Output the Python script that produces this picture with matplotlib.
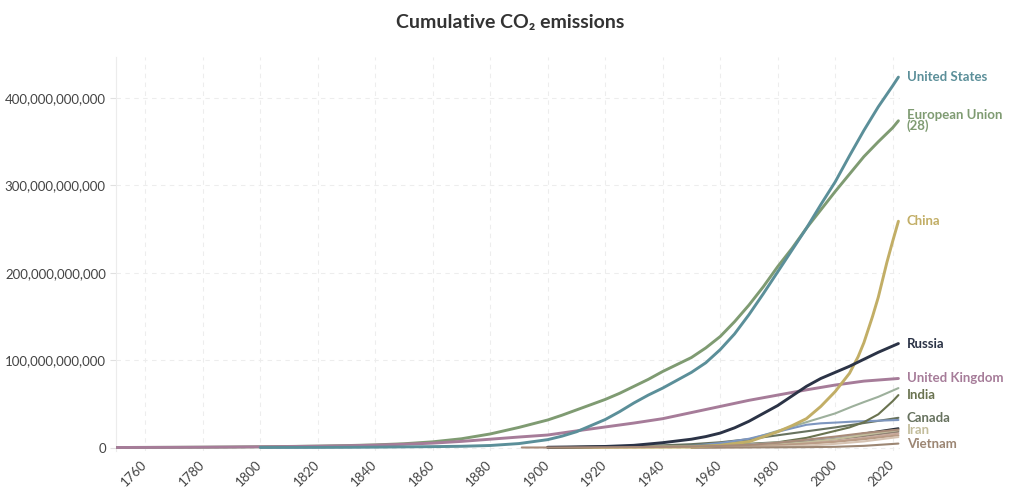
import numpy as np
import matplotlib
matplotlib.use("Agg")
from matplotlib import pyplot as plt
from matplotlib.ticker import FuncFormatter, MultipleLocator

plt.rcParams['font.family'] = ['Lato', 'DejaVu Sans']

# cumulative CO2 emissions, billions of tonnes
# (year, value) pairs per country
eu_years = [1750, 1760, 1770, 1780, 1790, 1800, 1810, 1820, 1830, 1840, 1850, 1860, 1870,
            1880, 1890, 1900, 1905, 1910, 1915, 1920, 1925, 1930, 1935, 1940, 1945, 1950,
            1955, 1960, 1965, 1970, 1975, 1980, 1985, 1990, 1995, 2000, 2005, 2010, 2015,
            2020, 2022]
eu_vals = [0.01, 0.1, 0.2, 0.35, 0.55, 0.85, 1.2, 1.6, 2.2, 3.0, 4.3, 6.5, 10, 15.5, 23, 31.5,
           37, 43, 49, 55, 62, 70, 78, 87, 95, 103, 114, 127, 144, 163, 184, 207, 228, 251,
           272, 293, 313, 333, 350, 366, 374]

uk_years = [1750, 1760, 1770, 1780, 1790, 1800, 1810, 1820, 1830, 1840, 1850, 1860, 1870,
            1880, 1890, 1900, 1910, 1920, 1930, 1940, 1950, 1960, 1970, 1980, 1990, 2000,
            2010, 2022]
uk_vals = [0.01, 0.1, 0.2, 0.35, 0.55, 0.8, 1.1, 1.5, 2.0, 2.7, 3.7, 5.0, 7.0, 9.5, 12, 14.3,
           19, 23.5, 28, 33, 40, 47, 54, 60, 66, 71.5, 76, 79]

us_years = [1800, 1810, 1820, 1830, 1840, 1850, 1860, 1870, 1880, 1890, 1900, 1905, 1910,
            1915, 1920, 1925, 1930, 1935, 1940, 1945, 1950, 1955, 1960, 1965, 1970, 1975,
            1980, 1985, 1990, 1995, 2000, 2005, 2010, 2015, 2020, 2022]
us_vals = [0.02, 0.05, 0.1, 0.2, 0.4, 0.7, 1.0, 1.4, 2.3, 4.5, 9, 13, 18, 25, 32, 41, 51, 60,
           68, 77, 86, 97, 112, 130, 152, 176, 201, 226, 251, 278, 304, 334, 363, 390, 414,
           424]

china_years = [1900, 1950, 1960, 1970, 1980, 1985, 1990, 1995, 2000, 2005, 2008, 2010, 2013,
               2015, 2018, 2020, 2022]
china_vals = [0.05, 0.5, 2.5, 6.6, 18, 25, 33, 47, 64, 85, 104, 120, 150, 172, 212, 236, 259]

russia_years = [1900, 1910, 1920, 1930, 1940, 1950, 1955, 1960, 1965, 1970, 1975, 1980, 1985,
                1990, 1995, 2000, 2005, 2010, 2015, 2022]
russia_vals = [0.3, 0.7, 1.2, 2.5, 5.5, 9.5, 12.5, 16.5, 22.5, 30, 39, 48, 59, 70, 79, 86, 93,
               101, 109, 119]

india_years = [1900, 1950, 1960, 1970, 1980, 1990, 2000, 2005, 2010, 2015, 2020, 2022]
india_vals = [0.3, 2, 2.8, 4.3, 6, 11, 19, 23, 29, 38, 53, 60]

japan_years = [1900, 1920, 1940, 1950, 1960, 1970, 1980, 1990, 2000, 2006, 2010, 2015, 2022]
japan_vals = [0.1, 0.5, 1.5, 2, 3, 9, 19, 29, 39, 47, 52, 58, 68]

canada_years = [1900, 1920, 1940, 1950, 1960, 1970, 1980, 1990, 2000, 2010, 2022]
canada_vals = [0.2, 1.0, 2.5, 3.8, 6, 9.5, 14, 18.5, 23, 28, 34]

ukraine_years = [1930, 1940, 1950, 1960, 1970, 1980, 1990, 1995, 2000, 2006, 2022]
ukraine_vals = [0.5, 1.2, 2, 5, 10, 18, 26, 27.7, 28.5, 29.6, 31.5]

korea_years = [1950, 1960, 1970, 1980, 1990, 2000, 2010, 2022]
korea_vals = [0.1, 0.5, 1.8, 4, 7.5, 10.5, 16, 22]

safrica_years = [1900, 1950, 1970, 1980, 1990, 2000, 2010, 2022]
safrica_vals = [0.1, 1.5, 3.5, 5.5, 8.5, 11.5, 15.5, 20]

australia_years = [1900, 1950, 1970, 1980, 1990, 2000, 2010, 2022]
australia_vals = [0.1, 1, 2.5, 4.2, 6.5, 9.3, 13, 18]

iran_years = [1950, 1960, 1970, 1980, 1990, 2000, 2010, 2022]
iran_vals = [0.2, 0.5, 1.5, 3.5, 6, 9.5, 14.5, 20]

saudi_years = [1950, 1970, 1980, 1990, 2000, 2010, 2022]
saudi_vals = [0.05, 0.5, 2, 4.5, 7, 11, 16]

brazil_years = [1950, 1960, 1970, 1980, 1990, 2000, 2010, 2022]
brazil_vals = [0.3, 0.7, 1.3, 2.7, 4.3, 6.5, 9.5, 14]

indonesia_years = [1950, 1970, 1980, 1990, 2000, 2010, 2022]
indonesia_vals = [0.1, 0.4, 1, 2.2, 4.2, 7, 12]

vietnam_years = [1950, 1970, 1980, 1990, 2000, 2010, 2022]
vietnam_vals = [0.01, 0.1, 0.2, 0.4, 0.8, 1.9, 4.5]

mexico_years = [1891, 1900, 1920, 1940, 1950, 1960, 1970, 1980, 1990, 2000, 2010, 2022]
mexico_vals = [0.0, 0.02, 0.3, 0.7, 1, 1.8, 3, 5.5, 9, 12.5, 16.5, 20.5]

# (name, years, values, colour, labelled, major) -- in drawing order
series = [
    ("European Union\n(28)", eu_years, eu_vals, "#7f9b72", True, True),
    ("United Kingdom", uk_years, uk_vals, "#a67c99", True, True),
    ("United States", us_years, us_vals, "#5b8f99", True, True),
    ("Japan", japan_years, japan_vals, "#9db09c", False, False),
    ("Canada", canada_years, canada_vals, "#67725f", True, False),
    ("Ukraine", ukraine_years, ukraine_vals, "#7d96bf", False, False),
    ("South Korea", korea_years, korea_vals, "#272c34", False, False),
    ("India", india_years, india_vals, "#6a7350", True, False),
    ("South Africa", safrica_years, safrica_vals, "#a9b6c6", False, False),
    ("Australia", australia_years, australia_vals, "#8f8173", False, False),
    ("Iran", iran_years, iran_vals, "#c3bd9c", True, False),
    ("Saudi Arabia", saudi_years, saudi_vals, "#c9a99b", False, False),
    ("Brazil", brazil_years, brazil_vals, "#b99b85", False, False),
    ("Indonesia", indonesia_years, indonesia_vals, "#d6c3b2", False, False),
    ("Vietnam", vietnam_years, vietnam_vals, "#9c8673", True, False),
    ("China", china_years, china_vals, "#c2ae66", True, True),
    ("Russia", russia_years, russia_vals, "#2b3346", True, True),
    ("Mexico", mexico_years, mexico_vals, "#a88b79", False, False),
]

x_ticks = list(range(1760, 2021, 20))

fig = plt.figure(figsize=(10.2, 5.01), dpi=100)
ax = fig.add_axes([0.1133, 0.0998, 0.7689, 0.7864])

for name, yrs, vals, col, labelled, major in series:
    v = np.array(vals) * 1e9
    ax.plot(yrs, v, color=col, lw=2.1 if major else 1.5, solid_capstyle='round',
            solid_joinstyle='round', zorder=3)
    if labelled:
        ax.annotate(name, xy=(yrs[-1], v[-1]), xytext=(6, 0), textcoords='offset points',
                    va='center', ha='left', color=col, fontsize=9.5, fontweight='bold',
                    linespacing=0.85, annotation_clip=False)

ax.set_xlim(1749.7, 2022.5)
ax.set_ylim(-4e9, 447e9)
ax.set_xticks(x_ticks)
ax.yaxis.set_major_locator(MultipleLocator(100e9))
ax.yaxis.set_major_formatter(FuncFormatter(lambda v, p: f"{v:,.0f}"))

ax.grid(True, color="#ededed", ls=(0, (4, 4)), lw=0.8, zorder=0)
for s in ['top', 'right', 'bottom']:
    ax.spines[s].set_visible(False)
ax.spines['left'].set_color("#ececec")
ax.tick_params(axis='y', length=4, color="#e0e0e0", labelcolor="#444444", labelsize=9.5, pad=3)
ax.tick_params(axis='x', length=0, labelcolor="#444444", labelsize=9.5, pad=8)
for lab in ax.get_xticklabels():
    lab.set_rotation(45)
    lab.set_ha('right')
    lab.set_va('center')
    lab.set_rotation_mode('anchor')

fig.text(0.5, 0.956, "Cumulative CO\u2082 emissions", ha='center', va='center',
         fontsize=14, fontweight='bold', color="#333333")

fig.savefig("out.png", dpi=100, facecolor='white')
